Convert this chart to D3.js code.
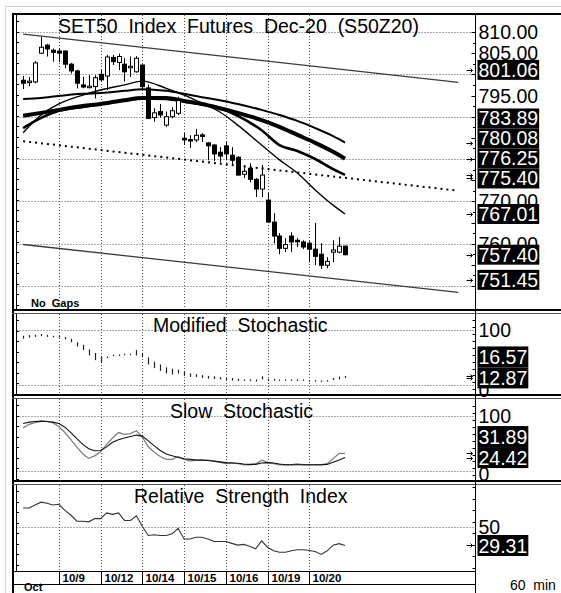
<!DOCTYPE html>
<html>
<head>
<meta charset="utf-8">
<script src="https://cdn.jsdelivr.net/npm/d3@7"></script>
<style>
  body { margin: 0; background: #fff; }
  svg { display: block; }
  text { font-family: Arial, "Liberation Sans", sans-serif; }
</style>
</head>
<body>
<svg id="chart" width="561" height="593"></svg>
<script>
// hourly bars, Oct 8 (partial) .. Oct 20
const opens = [798.6, 798.2, 798.2, 805.0, 806.9, 805.7, 805.5, 805.5, 802.4, 800.8,
  797.5, 797.1, 797.1, 800.0, 799.6, 804.0, 802.8, 802.4, 801.6, 800.6,
  802.2, 796.8, 789.8, 791.2, 788.0, 790.0, 790.8, 784.9, 784.6, 784.5,
  785.7, 783.8, 783.3, 781.6, 783.1, 780.9, 780.4, 776.4, 777.8, 775.2,
  772.9, 770.3, 765.1, 761.8, 758.9, 761.8, 760.8, 760.4, 760.1, 758.7,
  757.5, 754.9, 758.0, 758.0, 759.4];
const highs = [799.6, 799.4, 803.1, 808.8, 807.2, 806.1, 806.0, 805.7, 802.7, 801.1,
  799.4, 799.8, 799.8, 801.0, 804.6, 804.6, 804.9, 803.8, 804.2, 804.3,
  802.4, 797.6, 792.0, 793.0, 791.2, 792.2, 794.7, 786.1, 785.6, 787.1,
  786.1, 784.0, 783.5, 782.8, 784.0, 782.8, 780.7, 778.6, 779.0, 775.5,
  778.6, 772.0, 767.2, 762.5, 761.3, 762.7, 761.3, 760.8, 760.6, 764.9,
  760.1, 756.8, 760.8, 761.6, 759.6];
const lows = [796.5, 797.2, 797.9, 804.8, 804.2, 803.0, 802.9, 801.4, 800.2, 796.7,
  796.7, 796.7, 794.3, 798.3, 796.3, 802.2, 801.0, 798.3, 799.4, 800.4,
  796.6, 789.4, 788.8, 789.8, 787.6, 789.6, 790.4, 783.3, 782.6, 784.0,
  784.0, 779.7, 779.5, 779.3, 779.7, 778.6, 776.1, 775.5, 774.5, 771.0,
  771.0, 764.9, 760.1, 757.5, 758.0, 758.0, 759.2, 758.7, 755.6, 754.9,
  754.0, 754.2, 755.6, 757.7, 757.2];
const closes = [797.9, 798.4, 802.7, 806.4, 806.0, 805.2, 805.0, 802.4, 800.8, 797.9,
  797.0, 797.2, 799.2, 798.7, 804.1, 803.0, 804.2, 800.6, 801.9, 803.8,
  797.1, 789.6, 790.9, 790.4, 790.0, 791.4, 793.8, 784.5, 784.3, 785.6,
  785.5, 783.1, 781.2, 780.7, 781.2, 779.7, 776.2, 777.1, 775.2, 772.9,
  776.2, 765.1, 761.8, 758.9, 759.8, 760.4, 760.6, 759.2, 758.7, 757.0,
  754.9, 755.8, 758.5, 759.4, 757.4];

// moving averages read at these bars
const maBars = [0, 3, 6, 10, 13, 17, 20, 24, 27, 30, 33, 36, 40, 43, 46, 49, 52, 54];
const maTop = [794.2, 794.4, 794.9, 795.4, 795.6, 796.1, 796.5, 796.1, 795.4, 794.6, 793.9, 793.0, 791.6, 790.4, 789.0, 787.3, 785.4, 783.89];
const maThick = [790.2, 790.9, 791.6, 792.5, 793.0, 793.9, 794.4, 794.4, 793.7, 793.0, 792.0, 790.9, 789.2, 787.6, 785.7, 783.8, 781.7, 780.08];
const maMid = [787.3, 789.7, 791.4, 792.3, 793.0, 793.8, 794.3, 794.2, 793.6, 792.9, 792.0, 790.2, 786.8, 783.3, 781.9, 780.0, 777.6, 776.25];
const maFast = [786.2, 790.4, 793.0, 795.1, 796.3, 797.5, 798.4, 796.7, 795.1, 793.2, 791.1, 788.0, 783.3, 779.8, 776.7, 772.7, 769.1, 767.01];

// regression channel (start bar, projected end bar)
const channelBars = [0, 73];
const channelUpper = [809.5, 798.1];
const channelCenter = [784.2, 772.5];
const channelLower = [759.8, 748.5];

const priceMarkers = [801.06, 783.89, 780.08, 776.25, 775.40, 767.01, 757.40, 751.45];
const priceTicks = d3.range(750, 810.1, 5);
const priceGrid = d3.range(750, 810.1, 10);

// Modified Stochastic: two values per bar, drawn as short bars
const modA = [89.5, 90.8, 91.4, 92.7, 91.4, 89.5, 89.5, 87.5, 84.2, 77.7,
  73.2, 64.7, 58.2, 51.7, 51.7, 55.0, 55.6, 56.9, 56.9, 63.4,
  58.2, 50.4, 42.6, 37.4, 32.2, 29.6, 27.7, 24.4, 21.1, 19.8,
  17.9, 16.6, 15.9, 14.6, 12.7, 12.7, 11.4, 10.1, 10.1, 10.1,
  15.9, 11.4, 11.4, 10.1, 10.1, 10.1, 10.1, 10.1, 8.8, 8.8,
  8.1, 8.8, 12.7, 15.3, 16.57];
const modB = [84.2, 86.2, 87.5, 88.8, 87.5, 86.8, 86.2, 83.0, 77.7, 69.9,
  63.4, 53.7, 45.2, 40.7, 50.4, 53.0, 53.7, 55.0, 55.0, 53.7,
  50.4, 37.4, 30.9, 25.7, 21.1, 19.2, 21.1, 16.6, 14.6, 14.6,
  12.7, 11.4, 10.7, 10.1, 8.8, 8.1, 7.5, 7.5, 6.8, 6.2,
  10.1, 7.5, 8.1, 7.5, 7.5, 7.5, 7.5, 7.5, 6.8, 6.2,
  6.2, 6.8, 8.8, 10.1, 12.87];
const modMarkers = [16.57, 12.87];

// Slow Stochastic
const slowK = [78.4, 84.9, 88.1, 90.1, 90.1, 87.5, 81.0, 69.9, 56.9, 43.9,
  30.9, 23.1, 27.6, 35.4, 48.4, 60.1, 69.9, 66.6, 67.9, 73.2,
  61.4, 43.9, 34.1, 26.3, 21.1, 21.1, 26.3, 21.1, 17.9, 19.8,
  19.8, 19.8, 17.9, 15.9, 13.3, 14.6, 13.3, 11.4, 11.4, 12.7,
  19.8, 15.9, 13.3, 11.4, 11.4, 11.4, 12.7, 11.4, 11.4, 11.4,
  11.4, 13.3, 22.4, 32.2, 31.89];
const slowD = [86.2, 88.8, 90.1, 90.7, 90.1, 88.8, 86.2, 79.7, 69.9, 58.8,
  48.4, 40.6, 36.7, 37.4, 43.9, 52.3, 56.9, 60.1, 62.7, 65.3,
  63.4, 54.9, 45.8, 37.4, 30.9, 27.6, 24.4, 22.4, 21.1, 19.8,
  19.8, 19.2, 17.9, 16.6, 15.3, 14.6, 14.0, 12.7, 12.0, 12.0,
  14.6, 15.3, 14.6, 12.7, 11.4, 11.4, 11.4, 11.4, 11.4, 11.4,
  11.4, 12.0, 15.9, 19.8, 24.42];
const slowMarkers = [31.89, 24.42];

// Relative Strength Index
const rsi = [70.2, 70.2, 73.4, 76.5, 75.3, 73.4, 74.2, 67.5, 62.5, 55.8,
  55.8, 55.1, 58.6, 58.6, 64.8, 63.2, 64.8, 56.6, 56.6, 61.7,
  50.0, 40.2, 41.0, 40.2, 40.2, 42.2, 48.0, 36.4, 36.4, 38.3,
  38.3, 36.4, 33.6, 33.6, 33.6, 31.6, 29.7, 30.5, 28.6, 25.8,
  34.4, 27.4, 23.5, 22.0, 22.0, 23.5, 24.6, 24.6, 23.9, 22.7,
  19.6, 23.5, 29.7, 31.3, 29.31];
const rsiMarkers = [29.31];

const dayLabels = ["10/9", "10/12", "10/14", "10/15", "10/16", "10/19", "10/20"];
const dayStartBars = [6, 13, 20, 27, 34, 41, 48];

const svg = d3.select("#chart");
const axisX = 475.5;
const plotL = 16.5;

const x = d3.scaleLinear().domain([-1.2, 75.8]).range([16, 475]);
const px = i => Math.round(x(i)) + 0.5;

const panels = [
  { top: 15, bottom: 309 },
  { top: 314, bottom: 395 },
  { top: 399, bottom: 481 },
  { top: 485, bottom: 571 }
];

const yPrice = d3.scaleLinear().domain([750, 810]).range([286, 32]);
const yMod = d3.scaleLinear().domain([0, 100]).range([385, 330]);
const ySlow = d3.scaleLinear().domain([0, 100]).range([471, 416]);
const yRsi = d3.scaleLinear().domain([0, 100]).range([572.4, 480.6]);

svg.append("rect").attr("width", 561).attr("height", 593).attr("fill", "#fff");

// outer light border and heavy frame
svg.append("path")
  .attr("d", "M5.5,593V6.5H561")
  .attr("fill", "none").attr("stroke", "#d4d4d4");
svg.append("path")
  .attr("d", "M13,593V14H561")
  .attr("fill", "none").attr("stroke", "#000").attr("stroke-width", 2);

const grid = svg.append("g")
  .attr("stroke", "#555")
  .attr("stroke-dasharray", "1,2")
  .attr("fill", "none");

// vertical day gridlines in every panel
panels.forEach(p => {
  dayStartBars.forEach(b => {
    grid.append("line")
      .attr("x1", px(b)).attr("x2", px(b))
      .attr("y1", p.top).attr("y2", p.bottom);
  });
});

const hGrid = (y, v) => grid.append("line")
  .attr("x1", plotL).attr("x2", axisX)
  .attr("y1", Math.round(y(v)) + 0.5).attr("y2", Math.round(y(v)) + 0.5);

priceGrid.forEach(v => hGrid(yPrice, v));
[0, 100].forEach(v => hGrid(yMod, v));
[0, 100].forEach(v => hGrid(ySlow, v));
hGrid(yRsi, 50);

// title texts
const title = (txt, cx, y) => svg.append("text")
  .attr("x", cx).attr("y", y)
  .attr("font-size", 19.5)
  .attr("fill", "#000")
  .style("white-space", "pre")
  .text(txt);

title("SET50  Index  Futures  Dec-20  (S50Z20)", 58, 33);
title("Modified  Stochastic", 153, 332);
title("Slow  Stochastic", 170, 418);
title("Relative  Strength  Index", 134, 503);

// regression channel
const chLine = d3.line()
  .x(d => x(d[0]))
  .y(d => yPrice(d[1]));

[channelUpper, channelLower].forEach(arr => {
  svg.append("path")
    .datum(channelBars.map((b, i) => [b, arr[i]]))
    .attr("fill", "none")
    .attr("stroke", "#3a3a3a")
    .attr("stroke-width", 1.3)
    .attr("d", chLine);
});
svg.append("path")
  .datum(channelBars.map((b, i) => [b, channelCenter[i]]))
  .attr("fill", "none")
  .attr("stroke", "#000")
  .attr("stroke-width", 2)
  .attr("stroke-dasharray", "2,4")
  .attr("d", chLine);

// moving averages
const maLine = d3.line()
  .x((d, i) => x(maBars[i]))
  .y(d => yPrice(d))
  .curve(d3.curveMonotoneX);

[[maTop, 2], [maThick, 4], [maMid, 2.6], [maFast, 1.4]].forEach(([arr, w]) => {
  svg.append("path")
    .datum(arr)
    .attr("fill", "none")
    .attr("stroke", "#000")
    .attr("stroke-width", w)
    .attr("stroke-linejoin", "round")
    .attr("d", maLine);
});

// candles
const candles = svg.append("g");
opens.forEach((o, i) => {
  const c = closes[i];
  const cx = px(i);
  candles.append("line")
    .attr("x1", cx).attr("x2", cx)
    .attr("y1", yPrice(highs[i])).attr("y2", yPrice(lows[i]))
    .attr("stroke", "#000");
  const top = yPrice(Math.max(o, c));
  const h = Math.max(yPrice(Math.min(o, c)) - top, 1.5);
  candles.append("rect")
    .attr("x", cx - 2).attr("y", top)
    .attr("width", 4).attr("height", h)
    .attr("fill", c >= o ? "#fff" : "#000")
    .attr("stroke", "#000")
    .attr("stroke-width", 1);
});

svg.append("text")
  .attr("x", 31).attr("y", 306.5)
  .attr("font-size", 11).attr("font-weight", "bold")
  .style("white-space", "pre")
  .text("No  Gaps");

// modified stochastic bars
const modG = svg.append("g").attr("stroke", "#222").attr("stroke-width", 1.2);
modA.forEach((a, i) => {
  const y1 = yMod(Math.max(a, modB[i]));
  const y2 = Math.max(yMod(Math.min(a, modB[i])), y1 + 1.5);
  modG.append("line")
    .attr("x1", px(i)).attr("x2", px(i))
    .attr("y1", y1).attr("y2", y2);
});

// slow stochastic lines
const slowLine = d3.line().x((d, i) => x(i)).y(d => ySlow(d));
svg.append("path").datum(slowK)
  .attr("fill", "none").attr("stroke", "#808080").attr("stroke-width", 1.3)
  .attr("d", slowLine);
svg.append("path").datum(slowD)
  .attr("fill", "none").attr("stroke", "#111").attr("stroke-width", 1.1)
  .attr("d", slowLine);

// RSI
svg.append("path").datum(rsi)
  .attr("fill", "none").attr("stroke", "#333").attr("stroke-width", 1.1)
  .attr("d", d3.line().x((d, i) => x(i)).y(d => yRsi(d)));

// panel separators
panels.forEach((p, k) => {
  if (k > 0) {
    svg.append("line")
      .attr("x1", 12).attr("x2", 561)
      .attr("y1", p.top - 4).attr("y2", p.top - 4)
      .attr("stroke", "#000").attr("stroke-width", 2);
    svg.append("line")
      .attr("x1", 12).attr("x2", 561)
      .attr("y1", p.top - 0.5).attr("y2", p.top - 0.5)
      .attr("stroke", "#555");
  }
  // left border with small ticks
  svg.append("line")
    .attr("x1", plotL).attr("x2", plotL)
    .attr("y1", p.top).attr("y2", p.bottom)
    .attr("stroke", "#000");
  d3.range(p.top + 6, p.bottom, 10.5).forEach(t => {
    svg.append("line")
      .attr("x1", plotL).attr("x2", plotL + 2.5)
      .attr("y1", Math.round(t) + 0.5).attr("y2", Math.round(t) + 0.5)
      .attr("stroke", "#000");
  });
});

// right axis line and ticks
svg.append("line")
  .attr("x1", axisX).attr("x2", axisX)
  .attr("y1", 15).attr("y2", 593)
  .attr("stroke", "#000");

const rTicks = svg.append("g").attr("stroke", "#000");
d3.range(750, 811, 2.5).forEach(v => {
  const y = Math.round(yPrice(v)) + 0.5;
  rTicks.append("line").attr("x1", axisX - (v % 5 === 0 ? 4 : 2.5)).attr("x2", axisX)
    .attr("y1", y).attr("y2", y);
});
[[yMod, panels[1]], [ySlow, panels[2]], [yRsi, panels[3]]].forEach(([ys, p]) => {
  d3.range(-20, 121, 12.5).forEach(v => {
    const y = Math.round(ys(v)) + 0.5;
    if (y < p.top + 2 || y > p.bottom - 2) return;
    rTicks.append("line").attr("x1", axisX - 3).attr("x2", axisX)
      .attr("y1", y).attr("y2", y);
  });
});

// stacked positions of the last-value boxes (bottom-up, no overlap)
const stackBoxes = (values, ys, boxH) => {
  const items = values.map(v => ({ v, y: ys(v), h: boxH })).sort((a, b) => b.y - a.y);
  let prev = Infinity;
  items.forEach(d => {
    d.ly = Math.min(d.y, prev - boxH);
    prev = d.ly;
  });
  return items;
};

const priceBoxes = stackBoxes(priceMarkers, yPrice, 20);
const modBoxes = stackBoxes(modMarkers, yMod, 21);
const slowBoxes = stackBoxes(slowMarkers, ySlow, 21);
const rsiBoxes = stackBoxes(rsiMarkers, yRsi, 21);

// right axis labels; the ones mostly hidden under a value box are skipped
const axisLabel = (txt, y, boxes) => {
  const covered = d3.sum(boxes, b =>
    Math.max(0, Math.min(y + 7, b.ly + b.h / 2) - Math.max(y - 7, b.ly - b.h / 2)));
  if (covered > 6) return;
  svg.append("text")
    .attr("x", axisX + 3).attr("y", y).attr("dy", "0.36em")
    .attr("font-size", 19.5)
    .text(txt);
};

priceTicks.forEach(v => axisLabel(v.toFixed(2), yPrice(v), priceBoxes));
axisLabel("100", yMod(100), modBoxes);
axisLabel("0", yMod(0) + 5, []);
axisLabel("100", ySlow(100), slowBoxes);
axisLabel("0", ySlow(0) + 3, []);
axisLabel("50", yRsi(50), rsiBoxes);

const drawBoxes = items => {
  items.forEach(d => {
    const ay = Math.round(d.y) + 0.5;
    svg.append("path")
      .attr("d", `M${axisX - 9},${ay}h6m-2,-2l2,2l-2,2`)
      .attr("fill", "none").attr("stroke", "#000");
    const g = svg.append("g");
    const t = g.append("text")
      .attr("x", axisX + 3).attr("y", d.ly).attr("dy", "0.36em")
      .attr("font-size", 19.5).attr("fill", "#fff")
      .text(d.v.toFixed(2));
    const bb = t.node().getBBox();
    g.insert("rect", "text")
      .attr("x", axisX + 2).attr("y", d.ly - d.h / 2)
      .attr("width", bb.width + 2).attr("height", d.h)
      .attr("fill", "#000");
  });
};

[priceBoxes, modBoxes, slowBoxes, rsiBoxes].forEach(drawBoxes);

// date axis
svg.append("line")
  .attr("x1", 13).attr("x2", axisX)
  .attr("y1", 571.5).attr("y2", 571.5).attr("stroke", "#000");
svg.append("line")
  .attr("x1", 13).attr("x2", axisX)
  .attr("y1", 584.5).attr("y2", 584.5).attr("stroke", "#000");
dayStartBars.forEach((b, i) => {
  svg.append("line")
    .attr("x1", px(b)).attr("x2", px(b))
    .attr("y1", 571).attr("y2", 584)
    .attr("stroke", "#000");
  svg.append("text")
    .attr("x", px(b) + 3).attr("y", 582)
    .attr("font-size", 11.5).attr("font-weight", "bold")
    .text(dayLabels[i]);
});
svg.append("text")
  .attr("x", 24).attr("y", 591)
  .attr("font-size", 11).attr("font-weight", "bold")
  .text("Oct");
svg.append("text")
  .attr("x", 510).attr("y", 590)
  .attr("font-size", 14)
  .style("white-space", "pre")
  .text("60  min");
</script>
</body>
</html>
